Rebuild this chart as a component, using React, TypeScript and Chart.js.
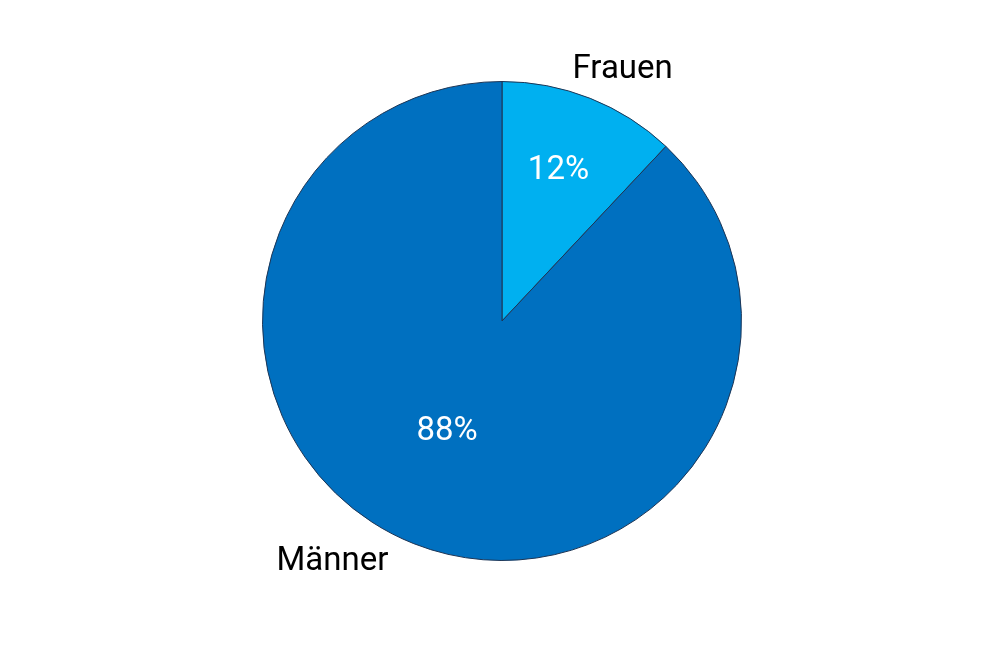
import { useEffect, useRef } from "react";
import { Chart, registerables } from "chart.js";

Chart.register(...registerables);

const categories = ["Frauen", "Männer"];
const shares = [12, 88];
const sliceColors = ["#00B0F0", "#0070C0"];

// label placement (relative to the arc geometry) – style only, not data
const insideRadius = [0.68, 0.508];
const insideShiftDeg = [-1.3, 5.2];
const outsideRadius = [1.17, 1.222];
const outsideShiftDeg = [3.9, 13.8];
const textNudge = 2;

const FONT = "Roboto, 'DejaVu Sans', sans-serif";

const pieLabels = {
    id: "pieLabels",
    afterDatasetsDraw(chart: Chart) {
        const ctx = chart.ctx;
        const meta = chart.getDatasetMeta(0);
        ctx.save();
        ctx.textAlign = "center";
        ctx.textBaseline = "middle";
        meta.data.forEach((el: any, i: number) => {
            const { x, y, startAngle, endAngle, outerRadius } = el.getProps(
                ["x", "y", "startAngle", "endAngle", "outerRadius"],
                true
            );
            const mid = (startAngle + endAngle) / 2;

            // percentage inside
            const ai = mid + (insideShiftDeg[i] * Math.PI) / 180;
            const ri = outerRadius * insideRadius[i];
            ctx.fillStyle = "#ffffff";
            ctx.font = `33px ${FONT}`;
            ctx.fillText(shares[i] + "%", x + Math.cos(ai) * ri, y + Math.sin(ai) * ri + textNudge);

            // category outside
            const a = mid + (outsideShiftDeg[i] * Math.PI) / 180;
            const ro = outerRadius * outsideRadius[i];
            ctx.fillStyle = "#000000";
            ctx.font = `33px ${FONT}`;
            ctx.fillText(categories[i], x + Math.cos(a) * ro, y + Math.sin(a) * ro + textNudge);
        });
        ctx.restore();
    },
};

export default function App() {
    const canvasRef = useRef<HTMLCanvasElement>(null);
    const chartRef = useRef<Chart | null>(null);

    useEffect(() => {
        document.body.style.margin = "0";
        if (!canvasRef.current) return;
        if (chartRef.current) chartRef.current.destroy();

        chartRef.current = new Chart(canvasRef.current, {
            type: "pie",
            data: {
                labels: categories,
                datasets: [
                    {
                        data: shares,
                        backgroundColor: sliceColors,
                        borderColor: "#1d3555",
                        borderWidth: 1,
                    },
                ],
            },
            options: {
                responsive: true,
                maintainAspectRatio: false,
                animation: false,
                layout: { padding: { top: 81, bottom: 103, left: 262, right: 254 } },
                plugins: {
                    legend: { display: false },
                    tooltip: { enabled: false },
                },
            },
            plugins: [pieLabels],
        });

        return () => {
            chartRef.current?.destroy();
        };
    }, []);

    return (
        <div style={{ position: "relative", width: "996px", height: "664px", background: "#ffffff" }}>
            <canvas ref={canvasRef} role="img" aria-label="Kreisdiagramm: Frauen 12%, Männer 88%" />
        </div>
    );
}
